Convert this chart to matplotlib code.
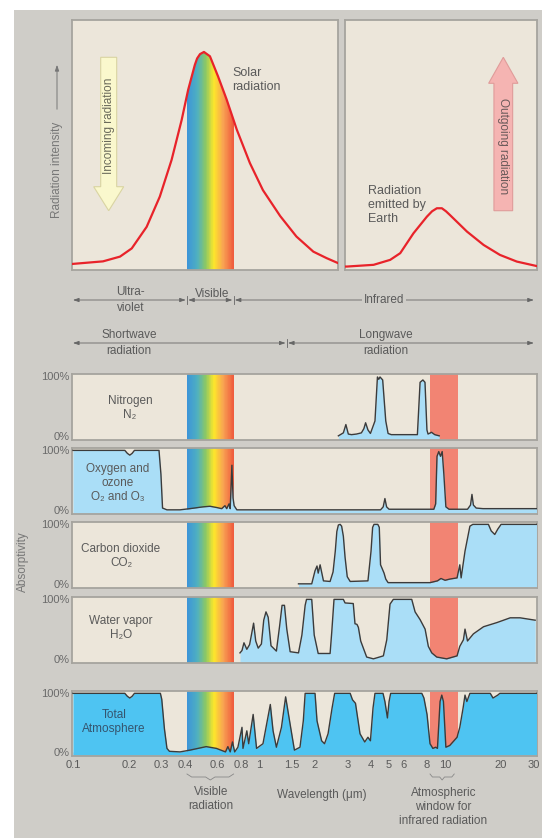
import numpy as np
import matplotlib
matplotlib.use("Agg")
import matplotlib.pyplot as plt
from matplotlib.colors import LinearSegmentedColormap
from matplotlib.patches import Rectangle, FancyArrow
from matplotlib.ticker import NullLocator

plt.rcParams['font.family'] = ['Liberation Sans', 'DejaVu Sans']

# ===================== DATA =====================
# solar spectrum (relative intensity), wavelength in micrometres
sun_wl = [0.099, 0.145, 0.179, 0.207, 0.249, 0.293, 0.339, 0.384, 0.416, 0.452,
          0.465, 0.482, 0.506, 0.525, 0.545, 0.603, 0.67, 0.76, 0.894, 1.05,
          1.3, 1.59, 1.96, 2.31, 2.66]
sun_int = [0.018, 0.03, 0.052, 0.09, 0.19, 0.33, 0.5, 0.685, 0.824, 0.94,
           0.97, 0.99, 1.0, 0.99, 0.98, 0.886, 0.78, 0.64, 0.485, 0.36,
           0.24, 0.145, 0.075, 0.045, 0.022]

# earth emission (same relative scale)
earth_wl = [2.89, 2.96, 4.12, 5.06, 5.73, 6.75, 7.97, 8.5, 9.02, 9.6, 10.1, 10.6,
            13.1, 16.1, 19.7, 24.3, 31.2]
earth_int = [0.006, 0.006, 0.014, 0.037, 0.068, 0.16, 0.237, 0.262, 0.276, 0.276,
             0.262, 0.245, 0.168, 0.106, 0.06, 0.029, 0.008]

# absorptivity (%) per gas
n2_wl = [2.67, 2.84, 2.93, 3.02, 3.14, 3.34, 3.55, 3.66, 3.74, 3.85, 3.97, 4.2,
         4.33, 4.4, 4.47, 4.62, 4.8, 4.94, 5.14, 7.1, 7.34, 7.6, 7.8, 7.99, 8.1,
         8.45, 8.8, 9.3]
n2_abs = [0, 5, 19, 3, 2, 3, 5, 12, 22, 10, 4, 25,
          99, 95, 99, 94, 25, 4, 2, 2, 90, 94, 90, 10, 3,
          6, 2, 0]

o2_wl = [0.1, 0.19, 0.196, 0.202, 0.208, 0.214, 0.29, 0.297, 0.303, 0.32,
         0.376, 0.425, 0.5, 0.545, 0.59, 0.63, 0.656, 0.67, 0.69, 0.70,
         0.715, 0.725, 0.735, 0.76, 4.5, 4.65, 4.75, 4.85, 5.0,
         8.7, 8.9, 9.05, 9.25, 9.45, 9.65, 9.85, 10.1, 10.5,
         13.2, 13.7, 13.95, 14.2, 14.7, 16.0, 31]
o2_abs = [100, 100, 95, 92, 95, 100, 100, 60, 3, 0,
          0, 2, 5, 6, 4, 2, 7, 2, 10, 2,
          75, 20, 7, 0, 0, 5, 19, 5, 1,
          1, 10, 90, 98, 90, 98, 60, 5, 1,
          1, 8, 26, 8, 3, 2, 2]

co2_wl = [1.63, 1.92, 2.0, 2.05, 2.08, 2.13, 2.22, 2.41, 2.5, 2.57, 2.62, 2.67,
          2.73, 2.78, 2.84, 2.9, 2.98, 3.09, 3.85, 4.0, 4.08, 4.15, 4.35, 4.43,
          4.5, 4.6, 4.7, 4.8, 4.94, 8.3, 9.1, 9.5, 10.0, 10.6, 11.6, 12.0, 12.2,
          12.8, 13.6, 14.1, 17.1, 17.7, 18.5, 19.2, 20.0, 31]
co2_abs = [0, 0, 22, 30, 18, 32, 5, 4, 20, 55, 88, 99,
           100, 97, 80, 45, 12, 4, 5, 55, 95, 100, 100, 95,
           32, 25, 18, 8, 2, 2, 5, 9, 6, 8, 10, 32, 10,
           55, 97, 100, 100, 89, 83, 92, 100, 100]

h2o_wl = [0.79, 0.81, 0.83, 0.86, 0.89, 0.91, 0.935, 0.96, 0.99, 1.03,
          1.06, 1.09, 1.12, 1.16, 1.24, 1.29, 1.33, 1.37, 1.41, 1.47,
          1.63, 1.7, 1.77, 1.8, 1.92, 1.98, 2.08, 2.41, 2.46, 2.53,
          2.84, 2.9, 3.21, 3.28, 3.36, 3.42, 3.52, 3.79, 4.12, 4.66,
          4.86, 5.06, 5.27, 6.62, 6.9, 7.34, 7.81, 8.13, 8.48, 9.02,
          10.2, 11.6, 12.0, 12.55, 12.8, 13.2, 14.2, 16.1, 19.0, 22.4,
          25.3, 30.5]
h2o_abs = [10, 14, 27, 16, 24, 40, 60, 30, 18, 25,
           65, 79, 70, 22, 13, 55, 90, 90, 50, 12,
           10, 40, 90, 100, 100, 40, 9, 9, 45, 100,
           100, 94, 93, 59, 58, 53, 30, 3, 0, 5,
           32, 92, 100, 100, 79, 66, 50, 21, 10, 3,
           0, 5, 21, 32, 50, 30, 42, 54, 61, 69,
           69, 65]

tot_wl = [0.1, 0.19, 0.196, 0.202, 0.208, 0.214, 0.295, 0.30, 0.31, 0.32,
          0.33, 0.376, 0.425, 0.52, 0.59, 0.66, 0.68, 0.70, 0.72, 0.74,
          0.77, 0.81, 0.82, 0.86, 0.88, 0.93, 0.97, 1.05, 1.15, 1.19,
          1.24, 1.32, 1.39, 1.47, 1.55, 1.66, 1.73, 1.77, 2.0, 2.05,
          2.17, 2.25, 2.35, 2.47, 2.55, 3.09, 3.18, 3.3, 3.49, 3.7,
          3.85, 3.97, 4.1, 4.2, 4.64, 4.75, 4.9, 5.0, 5.1, 7.5,
          7.7, 8.0, 8.3, 8.6, 8.9, 9.1, 9.4, 9.6, 9.8, 10.1,
          10.6, 11.6, 12.0, 12.5, 12.8, 13.1, 13.6, 17.5, 18.1, 19.2,
          19.7, 31]
tot_abs = [100, 100, 95, 92, 95, 100, 100, 90, 40, 6,
           1, 0, 3, 9, 6, 0, 9, 0, 17, 0,
           8, 42, 6, 36, 14, 64, 6, 14, 81, 36,
           8, 42, 94, 47, 3, 8, 53, 100, 100, 53,
           19, 14, 31, 75, 100, 100, 89, 83, 31, 17,
           25, 19, 75, 100, 100, 86, 58, 86, 100, 100,
           92, 64, 14, 6, 8, 6, 86, 97, 86, 8,
           11, 25, 42, 75, 97, 86, 100, 100, 92, 97,
           100, 100]

gas_labels = ["Nitrogen\nN\u2082", "Oxygen and\nozone\nO\u2082 and O\u2083",
              "Carbon dioxide\nCO\u2082", "Water vapor\nH\u2082O",
              "Total\nAtmosphere"]

tick_vals = [0.1, 0.2, 0.3, 0.4, 0.6, 0.8, 1, 1.5, 2, 3, 4, 5, 6, 8, 10, 20, 30]
tick_labels = ["0.1", "0.2", "0.3", "0.4", "0.6", "0.8", "1", "1.5", "2", "3",
               "4", "5", "6", "8", "10", "20", "30"]

visible = (0.41, 0.73)
ir_window = (8.3, 11.8)
short_long = 1.41

# ===================== STYLE / LAYOUT =====================
W, H = 542, 838
XMIN, XMAX = 0.0988, 31.2
BG = '#cfcdc8'
BEIGE = '#ece6da'
LBLUE = '#aadef7'
TBLUE = '#4ec4f2'
WINRED = '#f28473'
TXT = '#5a5a5a'
SPINE = '#a6a49e'
rainbow_cmap = LinearSegmentedColormap.from_list(
    "vis", [(0, '#3d95d8'), (0.22, '#4fb0c0'), (0.4, '#8cc864'),
            (0.58, '#fde72a'), (0.78, '#f8a352'), (1, '#ef5d3e')])


def box(x0, y0, x1, y1):
    return [x0 / W, 1 - y1 / H, (x1 - x0) / W, (y1 - y0) / H]


def fx(x):
    return x / W


def fy(y):
    return 1 - y / H


def style_panel(ax):
    ax.set_facecolor(BEIGE)
    for s in ax.spines.values():
        s.set_color(SPINE)
        s.set_linewidth(1.3)
    ax.set_xscale('log')
    ax.xaxis.set_minor_locator(NullLocator())


def rainbow(ax, clip=None, n=80):
    edges = np.logspace(np.log10(visible[0]), np.log10(visible[1]), n + 1)
    for i in range(n):
        r = ax.axvspan(edges[i], edges[i + 1], color=rainbow_cmap(i / (n - 1)),
                       lw=0, antialiased=False, zorder=1)
        if clip is not None:
            r.set_clip_path(clip, ax.transData)


fig = plt.figure(figsize=(W / 100, H / 100), dpi=100)
fig.patch.set_facecolor('white')
fig.add_artist(Rectangle((fx(14), 0), 1, fy(10), transform=fig.transFigure,
                         facecolor=BG, edgecolor='none', zorder=-10))

# ===================== TOP PANELS =====================
ax_sun = fig.add_axes(box(72, 20, 338, 270))
style_panel(ax_sun)
ax_sun.set_xlim(XMIN, 2.66)
ax_sun.set_ylim(-0.01, 1.148)
ax_sun.set_xticks([])
ax_sun.set_yticks([])
poly = ax_sun.fill_between(sun_wl, -0.05, sun_int, facecolor='none', edgecolor='none')
rainbow(ax_sun, clip=poly.get_paths()[0])
ax_sun.plot(sun_wl, sun_int, color='#e8232a', lw=1.6, zorder=4)

ax_earth = fig.add_axes(box(345, 20, 537, 270))
style_panel(ax_earth)
ax_earth.set_xlim(2.89, XMAX)
ax_earth.set_ylim(-0.01, 1.148)
ax_earth.set_xticks([])
ax_earth.set_yticks([])
ax_earth.plot(earth_wl, earth_int, color='#e8232a', lw=1.6, zorder=4)

fig.text(fx(232), fy(80), "Solar\nradiation", ha='left', va='center',
         fontsize=9, color=TXT, linespacing=1.25)
fig.text(fx(368), fy(205), "Radiation\nemitted by\nEarth", ha='left', va='center',
         fontsize=9, color=TXT, linespacing=1.2)

fig.text(fx(57), fy(170), "Radiation intensity", rotation=90, ha='center',
         va='center', fontsize=8.5, color='#777')
ax_sun.annotate('', xy=(fx(57), fy(62)), xytext=(fx(57), fy(112)),
                xycoords='figure fraction', textcoords='figure fraction',
                arrowprops=dict(arrowstyle='-|>,head_length=0.35,head_width=0.12',
                                color='#777', lw=0.7))

fig.add_artist(FancyArrow(fx(108.7), fy(57.3), 0, fy(210.7) - fy(57.3),
                          width=16 / W, head_width=30 / W, head_length=24 / H,
                          length_includes_head=True, transform=fig.transFigure,
                          facecolor='#faf8cd', edgecolor='#d9d4a2', lw=0.8))
fig.text(fx(108.7), fy(126), "Incoming radiation", rotation=90, ha='center',
         va='center', fontsize=8.5, color='#6a6a5a')

fig.add_artist(FancyArrow(fx(503.3), fy(210.7), 0, fy(57.3) - fy(210.7),
                          width=18.7 / W, head_width=29.3 / W, head_length=26 / H,
                          length_includes_head=True, transform=fig.transFigure,
                          facecolor='#f5b4b2', edgecolor='#e09c9a', lw=0.8))
fig.text(fx(503.3), fy(146), "Outgoing radiation", rotation=270, ha='center',
         va='center', fontsize=8.5, color='#6a5a5a')

# ===================== BAND ROWS =====================
ax_b = fig.add_axes(box(72, 280, 537, 365))
ax_b.set_xscale('log')
ax_b.set_xlim(XMIN, XMAX)
ax_b.set_ylim(365, 280)
ax_b.axis('off')


def span(ax, a, b, y):
    ax.annotate('', xy=(b, y), xytext=(a, y),
                arrowprops=dict(arrowstyle='<|-|>,head_length=0.35,head_width=0.12',
                                lw=0.6, color='#666', shrinkA=0, shrinkB=0))


def bar(ax, x, y):
    ax.plot([x, x], [y - 4, y + 4], color='#666', lw=0.6)


span(ax_b, 0.1, visible[0] * 0.985, 300)
span(ax_b, visible[0] * 1.015, visible[1] * 0.985, 300)
span(ax_b, visible[1] * 1.015, 30, 300)
bar(ax_b, visible[0], 300)
bar(ax_b, visible[1], 300)
span(ax_b, 0.1, short_long * 0.985, 343)
span(ax_b, short_long * 1.015, 30, 343)
bar(ax_b, short_long, 343)

ax_b.text(0.204, 300, "Ultra-\nviolet", ha='center', va='center', fontsize=8.5,
          color=TXT, linespacing=1.45)
ax_b.text(0.56, 294, "Visible", ha='center', va='center', fontsize=8.5, color=TXT)
ax_b.text(4.7, 300, "Infrared", ha='center', va='center', fontsize=8.5, color=TXT,
          bbox=dict(facecolor=BG, edgecolor='none', pad=1))
ax_b.text(0.2, 343, "Shortwave\nradiation", ha='center', va='center', fontsize=8.5,
          color=TXT, linespacing=1.45)
ax_b.text(4.8, 343, "Longwave\nradiation", ha='center', va='center', fontsize=8.5,
          color=TXT, linespacing=1.45)

# ===================== ABSORPTION PANELS =====================
panel_rows = [(374, 440), (448, 514), (522, 588), (597, 663), (691, 756)]
gas_data = [(n2_wl, n2_abs), (o2_wl, o2_abs), (co2_wl, co2_abs),
            (h2o_wl, h2o_abs), (tot_wl, tot_abs)]
label_pos = [(130, 408), (118, 483), (121, 556), (121, 628), (114, 722)]
YLO, YHI = -7, 104

for i, ((y0, y1), (wl, ab)) in enumerate(zip(panel_rows, gas_data)):
    ax = fig.add_axes(box(72, y0, 537, y1))
    style_panel(ax)
    ax.set_xlim(XMIN, XMAX)
    ax.set_ylim(YLO, YHI)
    rainbow(ax)
    ax.axvspan(*ir_window, color=WINRED, lw=0, zorder=1)
    fill = TBLUE if i == 4 else LBLUE
    ax.fill_between(wl, YLO, ab, color=fill, lw=0, zorder=3)
    ax.plot(wl, ab, color='#3b3b3b', lw=1.0, zorder=4)
    ax.set_yticks([0, 100])
    ax.set_yticklabels(['0%', '100%'])
    ax.tick_params(axis='y', length=0, pad=2, labelsize=8, labelcolor='#6a6a6a')
    if i < 4:
        ax.set_xticks([])
    else:
        ax.set_xticks(tick_vals)
        ax.set_xticklabels(tick_labels)
        ax.tick_params(axis='x', direction='in', length=3, color='#d0d0d0',
                       labelsize=8, labelcolor=TXT, pad=3)
    ax.spines['bottom'].set_zorder(6)
    cx, cy = label_pos[i]
    fig.text(fx(cx), fy(cy), gas_labels[i], ha='center', va='center', fontsize=8.5,
             color='#35556f' if i == 4 else TXT, linespacing=1.25)

fig.text(fx(23), fy(562), "Absorptivity", rotation=90, ha='center', va='center',
         fontsize=8.5, color='#777')

# ===================== BOTTOM NOTES =====================
ax_n = fig.add_axes(box(72, 768, 537, 838))
ax_n.set_xscale('log')
ax_n.set_xlim(XMIN, XMAX)
ax_n.set_ylim(838, 768)
ax_n.axis('off')


def brace(ax, a, b, y):
    la, lb = np.log10(a), np.log10(b)
    lm, e = (la + lb) / 2, 0.1 * (lb - la)
    xs = 10 ** np.array([la, la + e, lm - e, lm, lm + e, lb - e, lb])
    ys = [y - 3, y, y, y + 3, y, y, y - 3]
    ax.plot(xs, ys, color='#888', lw=0.6)


brace(ax_n, visible[0], visible[1], 777)
brace(ax_n, 8.3, 11.2, 777)
ax_n.text(0.553, 799, "Visible\nradiation", ha='center', va='center', fontsize=8.5,
          color=TXT, linespacing=1.25)
ax_n.text(2.18, 795, "Wavelength (\u03bcm)", ha='center', va='center', fontsize=8.5,
          color=TXT)
ax_n.text(9.8, 807, "Atmospheric\nwindow for\ninfrared radiation", ha='center',
          va='center', fontsize=8.5, color=TXT, linespacing=1.25)

fig.savefig("out.png", dpi=100, facecolor=fig.get_facecolor())
